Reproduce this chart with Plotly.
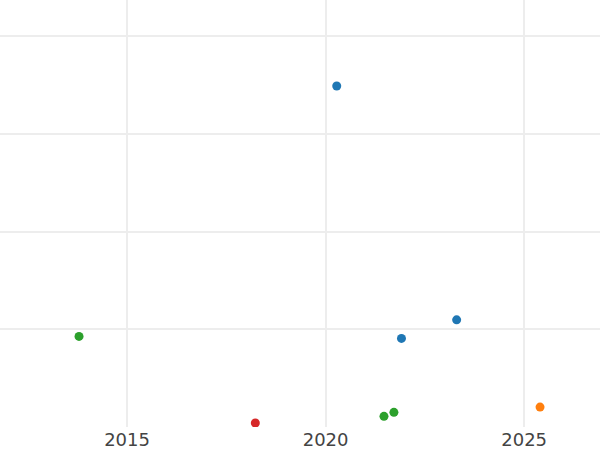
import plotly.graph_objects as go

blue_x = [2020.28, 2021.91, 2023.30]
blue_y = [34.9, 9.07, 10.97]
orange_x = [2025.40]
orange_y = [2.04]
green_x = [2013.79, 2021.47, 2021.72]
green_y = [9.27, 1.09, 1.50]
red_x = [2018.23]
red_y = [0.41]

series = [
    ("A", blue_x, blue_y, "#1f77b4"),
    ("B", orange_x, orange_y, "#ff7f0e"),
    ("C", green_x, green_y, "#2ca02c"),
    ("D", red_x, red_y, "#d62728"),
]

fig = go.Figure()
for name, xs, ys, c in series:
    fig.add_trace(go.Scatter(x=xs, y=ys, mode="markers", name=name,
                             marker=dict(color=c, size=9)))

fig.update_layout(
    width=600, height=450,
    margin=dict(l=0, r=0, t=0, b=23),
    paper_bgcolor="white", plot_bgcolor="white",
    showlegend=False,
    font=dict(family="DejaVu Sans", size=18, color="#444"),
)
fig.update_xaxes(range=[2011.8, 2026.91], tickvals=[2015, 2020, 2025],
                 ticktext=["2015", "2020", "2025"],
                 showgrid=True, gridcolor="#ededed", gridwidth=1.5,
                 zeroline=False, showline=False, ticks="")
fig.update_yaxes(range=[0, 43.7], tickvals=[10, 20, 30, 40],
                 showticklabels=False,
                 showgrid=True, gridcolor="#ededed", gridwidth=1.5,
                 zeroline=False, showline=False, ticks="")

fig.write_html("out.html", config={"displayModeBar": False},
               post_script="document.body.style.margin='0';")
